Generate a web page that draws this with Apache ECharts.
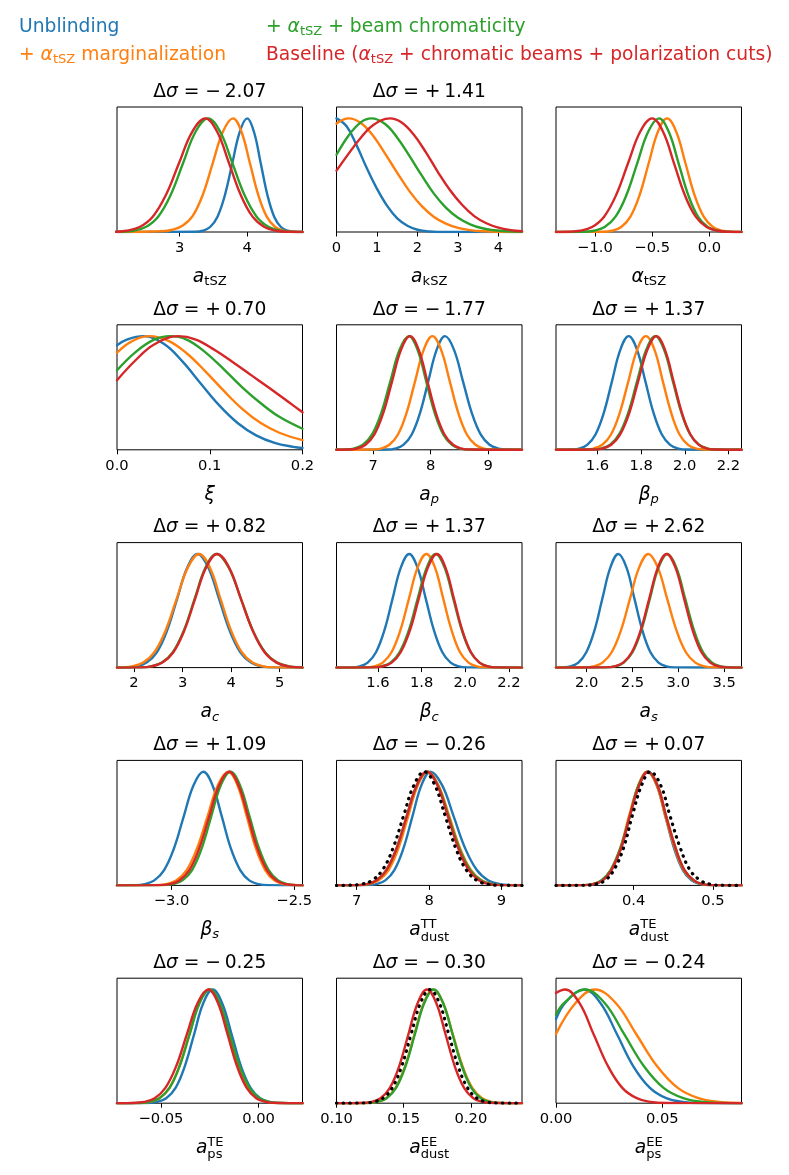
<!DOCTYPE html>
<html>
<head>
<meta charset="utf-8">
<script src="https://cdn.jsdelivr.net/npm/echarts@6/dist/echarts.min.js"></script>
<style>
  html, body { margin: 0; background: #fff; }
  #main { width: 789px; height: 1175px; }
</style>
</head>
<body>
<div id="main"></div>
<script>
// bell-shaped profile, normalised to the peak
const bell = [0.002, 0.011, 0.044, 0.135, 0.325, 0.607, 0.882, 1, 0.882, 0.607, 0.325, 0.135, 0.044, 0.011, 0.002]

// a_tSZ
const tszRange = [2.07, 4.82]
const tszTicks = [3, 4]
const tszLabels = ['3', '4']
const tszBlueX = [3.23, 3.34, 3.45, 3.56, 3.67, 3.78, 3.89, 4.00, 4.10, 4.20, 4.30, 4.40, 4.50, 4.60, 4.70]
const tszOrangeX = [2.74, 2.89, 3.04, 3.19, 3.34, 3.49, 3.64, 3.79, 3.915, 4.04, 4.165, 4.29, 4.415, 4.54, 4.665]
const tszOrangeY = [0.006, 0.02, 0.055, 0.14, 0.325, 0.607, 0.882, 1, 0.882, 0.607, 0.325, 0.135, 0.044, 0.011, 0.002]
const tszGreenX = [2.125, 2.31, 2.495, 2.68, 2.865, 3.05, 3.235, 3.42, 3.60, 3.78, 3.96, 4.14, 4.32, 4.50, 4.68]
const tszRedX = [2.015, 2.21, 2.405, 2.60, 2.795, 2.99, 3.185, 3.38, 3.555, 3.73, 3.905, 4.08, 4.255, 4.43, 4.605]

// a_kSZ
const kszRange = [0, 4.58]
const kszTicks = [0, 1, 2, 3, 4]
const kszLabels = ['0', '1', '2', '3', '4']
const kszBlueX = [0, 0.25, 0.5, 0.75, 1.0, 1.25, 1.5, 1.75, 2.0, 2.3, 2.7]
const kszBlueY = [1.0, 0.93, 0.76, 0.56, 0.38, 0.23, 0.12, 0.055, 0.02, 0.005, 0]
const kszOrangeX = [0, 0.3, 0.6, 0.9, 1.2, 1.5, 1.8, 2.1, 2.4, 2.7, 3.0, 3.3, 3.6, 4.0]
const kszOrangeY = [0.955, 1, 0.96, 0.85, 0.69, 0.52, 0.36, 0.23, 0.135, 0.073, 0.036, 0.017, 0.007, 0.002]
const kszGreenX = [0, 0.3, 0.6, 0.86, 1.2, 1.5, 1.8, 2.1, 2.4, 2.7, 3.0, 3.3, 3.6, 3.9, 4.2, 4.58]
const kszGreenY = [0.68, 0.85, 0.965, 1, 0.95, 0.83, 0.67, 0.50, 0.34, 0.215, 0.125, 0.068, 0.033, 0.015, 0.006, 0.002]
const kszRedX = [0, 0.3, 0.6, 0.9, 1.32, 1.6, 1.9, 2.2, 2.5, 2.8, 3.1, 3.4, 3.7, 4.0, 4.3, 4.58]
const kszRedY = [0.54, 0.69, 0.83, 0.94, 1, 0.965, 0.86, 0.705, 0.53, 0.37, 0.24, 0.14, 0.077, 0.038, 0.017, 0.007]

// alpha_tSZ
const alphaRange = [-1.34, 0.28]
const alphaTicks = [-1, -0.5, 0]
const alphaLabels = ['\u22121.0', '\u22120.5', '0.0']
const alphaOrangeX = [-0.93, -0.85, -0.77, -0.69, -0.61, -0.53, -0.45, -0.37, -0.29, -0.21, -0.13, -0.05, 0.03, 0.11, 0.19]
const alphaGreenX = [-1.105, -1.01, -0.915, -0.82, -0.725, -0.63, -0.535, -0.44, -0.355, -0.27, -0.185, -0.10, -0.015, 0.07, 0.155]
const alphaRedX = [-1.235, -1.13, -1.025, -0.92, -0.815, -0.71, -0.605, -0.50, -0.405, -0.31, -0.215, -0.12, -0.025, 0.07, 0.165]

// xi
const xiRange = [0, 0.2]
const xiTicks = [0, 0.1, 0.2]
const xiLabels = ['0.0', '0.1', '0.2']
const xiBlueX = [0, 0.01, 0.028, 0.05, 0.07, 0.09, 0.11, 0.13, 0.15, 0.17, 0.19, 0.2]
const xiBlueY = [0.92, 0.967, 1, 0.935, 0.783, 0.586, 0.393, 0.236, 0.127, 0.061, 0.026, 0.016]
const xiOrangeX = [0, 0.015, 0.035, 0.055, 0.075, 0.095, 0.115, 0.135, 0.155, 0.175, 0.2]
const xiOrangeY = [0.854, 0.95, 1, 0.96, 0.85, 0.693, 0.52, 0.36, 0.235, 0.15, 0.085]
const xiGreenX = [0, 0.02, 0.04, 0.057, 0.075, 0.095, 0.115, 0.135, 0.155, 0.175, 0.2]
const xiGreenY = [0.70, 0.86, 0.969, 1, 0.97, 0.86, 0.71, 0.55, 0.41, 0.29, 0.185]
const xiRedX = [0, 0.02, 0.04, 0.066, 0.085, 0.105, 0.125, 0.145, 0.165, 0.185, 0.2]
const xiRedY = [0.612, 0.788, 0.927, 1, 0.97, 0.88, 0.77, 0.655, 0.54, 0.42, 0.33]

// a_p
const apRange = [6.36, 9.59]
const apTicks = [7, 8, 9]
const apLabels = ['7', '8', '9']
const apBlueX = [7.235, 7.38, 7.525, 7.67, 7.815, 7.96, 8.105, 8.25, 8.405, 8.56, 8.715, 8.87, 9.025, 9.18, 9.335]
const apOrangeX = [6.98, 7.13, 7.28, 7.43, 7.58, 7.73, 7.88, 8.03, 8.18, 8.33, 8.48, 8.63, 8.78, 8.93, 9.08]
const apGreenX = [6.50, 6.66, 6.82, 6.98, 7.14, 7.30, 7.46, 7.62, 7.77, 7.92, 8.07, 8.22, 8.37, 8.52, 8.67]
const apRedX = [6.555, 6.71, 6.865, 7.02, 7.175, 7.33, 7.485, 7.64, 7.79, 7.94, 8.09, 8.24, 8.39, 8.54, 8.69]

// beta_p (beta_c looks the same)
const bpRange = [1.41, 2.26]
const bpTicks = [1.6, 1.8, 2.0, 2.2]
const bpLabels = ['1.6', '1.8', '2.0', '2.2']
const bpBlueX = [1.477, 1.515, 1.553, 1.591, 1.629, 1.667, 1.705, 1.743, 1.781, 1.819, 1.857, 1.895, 1.933, 1.971, 2.009]
const bpOrangeX = [1.542, 1.582, 1.622, 1.662, 1.702, 1.742, 1.782, 1.822, 1.861, 1.899, 1.938, 1.976, 2.015, 2.053, 2.092]
const bpGreenX = [1.575, 1.616, 1.658, 1.699, 1.741, 1.782, 1.824, 1.865, 1.905, 1.945, 1.985, 2.025, 2.065, 2.105, 2.145]
const bpRedX = [1.58, 1.621, 1.663, 1.704, 1.746, 1.787, 1.829, 1.87, 1.909, 1.948, 1.987, 2.026, 2.065, 2.104, 2.143]

// a_c
const acRange = [1.65, 5.47]
const acTicks = [2, 3, 4, 5]
const acLabels = ['2', '3', '4', '5']
const acBlueX = [1.84, 2.05, 2.26, 2.47, 2.68, 2.89, 3.10, 3.31, 3.53, 3.75, 3.97, 4.19, 4.41, 4.63, 4.85]
const acOrangeX = [1.73, 1.96, 2.19, 2.42, 2.65, 2.88, 3.11, 3.34, 3.56, 3.78, 4.00, 4.22, 4.44, 4.66, 4.88]
const acGreenX = [2.125, 2.35, 2.575, 2.80, 3.025, 3.25, 3.475, 3.70, 3.95, 4.20, 4.45, 4.70, 4.95, 5.20, 5.45]
const acRedX = [2.135, 2.36, 2.585, 2.81, 3.035, 3.26, 3.485, 3.71, 3.955, 4.20, 4.445, 4.69, 4.935, 5.18, 5.425]

// a_s
const asRange = [1.665, 3.69]
const asTicks = [2, 2.5, 3, 3.5]
const asLabels = ['2.0', '2.5', '3.0', '3.5']
const asBlueX = [1.734, 1.821, 1.909, 1.996, 2.084, 2.171, 2.259, 2.346, 2.434, 2.521, 2.609, 2.696, 2.784, 2.871, 2.959]
const asOrangeX = [1.973, 2.073, 2.173, 2.273, 2.373, 2.473, 2.573, 2.673, 2.776, 2.878, 2.981, 3.083, 3.186, 3.288, 3.391]
const asGreenX = [2.215, 2.31, 2.405, 2.50, 2.595, 2.69, 2.785, 2.88, 2.978, 3.075, 3.173, 3.27, 3.368, 3.465, 3.563]
const asRedX = [2.208, 2.303, 2.398, 2.493, 2.588, 2.683, 2.778, 2.873, 2.968, 3.063, 3.158, 3.253, 3.348, 3.443, 3.538]

// beta_s
const bsRange = [-3.222, -2.466]
const bsTicks = [-3, -2.5]
const bsLabels = ['\u22123.0', '\u22122.5']
const bsBlueX = [-3.15, -3.11, -3.07, -3.03, -2.99, -2.95, -2.91, -2.87, -2.833, -2.795, -2.758, -2.72, -2.683, -2.645, -2.608]
const bsOrangeX = [-3.066, -3.023, -2.981, -2.938, -2.896, -2.853, -2.811, -2.768, -2.731, -2.693, -2.656, -2.618, -2.581, -2.543, -2.506]
const bsGreenX = [-3.033, -2.994, -2.955, -2.916, -2.877, -2.838, -2.799, -2.76, -2.721, -2.682, -2.643, -2.604, -2.565, -2.526, -2.487]
const bsRedX = [-3.049, -3.008, -2.968, -2.927, -2.887, -2.846, -2.806, -2.765, -2.727, -2.688, -2.65, -2.611, -2.573, -2.534, -2.496]

// a_dust^TT
const dttRange = [6.72, 9.285]
const dttTicks = [7, 8, 9]
const dttLabels = ['7', '8', '9']
const dttBlueX = [7.145, 7.27, 7.395, 7.52, 7.645, 7.77, 7.895, 8.02, 8.18, 8.34, 8.50, 8.66, 8.82, 8.98, 9.14]
const dttOrangeX = [7.035, 7.17, 7.305, 7.44, 7.575, 7.71, 7.845, 7.98, 8.13, 8.28, 8.43, 8.58, 8.73, 8.88, 9.03]
const dttGreenX = [6.99, 7.13, 7.27, 7.41, 7.55, 7.69, 7.83, 7.97, 8.12, 8.27, 8.42, 8.57, 8.72, 8.87, 9.02]
const dttRedX = [6.99, 7.13, 7.27, 7.41, 7.55, 7.69, 7.83, 7.97, 8.115, 8.26, 8.405, 8.55, 8.695, 8.84, 8.985]
const dttPriorX = [6.92, 7.065, 7.21, 7.355, 7.50, 7.645, 7.79, 7.935, 8.08, 8.225, 8.37, 8.515, 8.66, 8.805, 8.95]

// a_dust^TE
const dteRange = [0.302, 0.536]
const dteTicks = [0.4, 0.5]
const dteLabels = ['0.4', '0.5']
const dteBlueX = [0.338, 0.349, 0.361, 0.372, 0.384, 0.395, 0.407, 0.418, 0.429, 0.44, 0.451, 0.462, 0.473, 0.484, 0.495]
const dteOrangeX = [0.337, 0.348, 0.36, 0.371, 0.383, 0.394, 0.406, 0.417, 0.429, 0.44, 0.452, 0.463, 0.475, 0.486, 0.498]
const dteGreenX = [0.336, 0.348, 0.359, 0.371, 0.383, 0.395, 0.406, 0.418, 0.43, 0.441, 0.453, 0.464, 0.476, 0.487, 0.499]
const dteRedX = [0.338, 0.349, 0.361, 0.372, 0.384, 0.395, 0.407, 0.418, 0.43, 0.441, 0.453, 0.464, 0.476, 0.487, 0.499]
const dtePriorX = [0.341, 0.352, 0.364, 0.375, 0.387, 0.398, 0.41, 0.421, 0.434, 0.446, 0.459, 0.471, 0.484, 0.496, 0.509]

// a_ps^TE
const pteRange = [-0.0725, 0.0225]
const pteTicks = [-0.05, 0]
const pteLabels = ['\u22120.05', '0.00']
const pteBlueX = [-0.0568, -0.052, -0.0473, -0.0425, -0.0378, -0.033, -0.0283, -0.0235, -0.0187, -0.0138, -0.009, -0.0041, 0.0008, 0.0056, 0.0105]
const pteOrangeX = [-0.0609, -0.0558, -0.0507, -0.0456, -0.0405, -0.0354, -0.0303, -0.0252, -0.0202, -0.0152, -0.0102, -0.0052, -0.0002, 0.0048, 0.0098]
const pteGreenX = [-0.0611, -0.0559, -0.0508, -0.0456, -0.0405, -0.0353, -0.0302, -0.025, -0.0199, -0.0148, -0.0097, -0.0046, 0.0005, 0.0056, 0.0107]
const pteRedX = [-0.0642, -0.0587, -0.0532, -0.0477, -0.0422, -0.0367, -0.0312, -0.0257, -0.0208, -0.0159, -0.011, -0.0061, -0.0012, 0.0037, 0.0086]

// a_dust^EE
const deeRange = [0.10, 0.238]
const deeTicks = [0.10, 0.15, 0.20]
const deeLabels = ['0.10', '0.15', '0.20']
const deeOrangeX = [0.123, 0.13, 0.137, 0.144, 0.151, 0.158, 0.165, 0.172, 0.1793, 0.1865, 0.1938, 0.201, 0.2083, 0.2155, 0.2228]
const deeGreenX = [0.1233, 0.1303, 0.1373, 0.1443, 0.1513, 0.1583, 0.1653, 0.1723, 0.1793, 0.1863, 0.1933, 0.2003, 0.2073, 0.2143, 0.2213]
const deeRedX = [0.119, 0.1259, 0.1328, 0.1397, 0.1466, 0.1535, 0.1604, 0.1673, 0.1742, 0.1811, 0.188, 0.1949, 0.2018, 0.2087, 0.2156]
const deePriorX = [0.1205, 0.1275, 0.1345, 0.1415, 0.1485, 0.1555, 0.1625, 0.1695, 0.1765, 0.1835, 0.1905, 0.1975, 0.2045, 0.2115, 0.2185]

// a_ps^EE
const peeRange = [0, 0.0873]
const peeTicks = [0, 0.05]
const peeLabels = ['0.00', '0.05']
const peeBlueX = [0, 0.0044, 0.0132, 0.0209, 0.0287, 0.0364, 0.0442, 0.0519, 0.0597, 0.0674]
const peeBlueY = [0.74, 0.885, 1, 0.882, 0.607, 0.325, 0.135, 0.044, 0.011, 0.002]
const peeOrangeX = [0, 0.0092, 0.0183, 0.0281, 0.0378, 0.0476, 0.0573, 0.0671, 0.0768, 0.0866]
const peeOrangeY = [0.61, 0.882, 1, 0.882, 0.607, 0.325, 0.135, 0.044, 0.011, 0.002]
const peeGreenX = [0, 0.004, 0.0136, 0.0229, 0.0321, 0.0414, 0.0506, 0.0599, 0.0691, 0.0784]
const peeGreenY = [0.78, 0.884, 1, 0.882, 0.607, 0.325, 0.135, 0.044, 0.011, 0.002]
const peeRedX = [0, 0.0042, 0.011, 0.0177, 0.0245, 0.0312, 0.038, 0.0447, 0.0515]
const peeRedY = [0.97, 1, 0.882, 0.607, 0.325, 0.135, 0.044, 0.011, 0.002]

// delta sigma shown above each panel
const shifts = ['\u2212\u20092.07', '+\u20091.41', null,
  '+\u20090.70', '\u2212\u20091.77', '+\u20091.37',
  '+\u20090.82', '+\u20091.37', '+\u20092.62',
  '+\u20091.09', '\u2212\u20090.26', '+\u20090.07',
  '\u2212\u20090.25', '\u2212\u20090.30', '\u2212\u20090.24']

const colors = {
  blue: '#1f77b4',
  orange: '#ff7f0e',
  green: '#2ca02c',
  red: '#d62728',
  prior: '#000000'
}

const FONT = '"DejaVu Sans"'
const ctx = document.createElement('canvas').getContext('2d')

function fontOf(kind, size) {
  const italic = kind === 'i' || kind === 'subi'
  const small = kind === 'sub' || kind === 'subi'
  const s = small ? size * 0.7 : size
  return (italic ? 'italic ' : '') + s.toFixed(2) + 'px ' + FONT
}

function textWidth(str, font) {
  ctx.font = font
  return ctx.measureText(str).width
}

/** lays out a run of text pieces (normal, italic, subscript, stacked sup/sub) */
function mathText(parts, x, y, size, color, align) {
  const items = []
  let w = 0
  parts.forEach(p => {
    if (p.sup !== undefined) {
      const f = fontOf('sub', size)
      items.push({ text: p.sup, font: f, dx: w, dy: -0.3 * size })
      items.push({ text: p.sub, font: f, dx: w, dy: 0.36 * size })
      w += Math.max(textWidth(p.sup, f), textWidth(p.sub, f))
    } else {
      const kind = p.f || 'n'
      const f = fontOf(kind, size)
      const dy = (kind === 'sub' || kind === 'subi') ? 0.25 * size : 0
      items.push({ text: p.t, font: f, dx: w, dy: dy })
      w += textWidth(p.t, f)
    }
  })
  const x0 = align === 'center' ? x - w / 2 : x
  return items.map(it => ({
    type: 'text',
    silent: true,
    style: {
      text: it.text,
      x: x0 + it.dx,
      y: y + it.dy,
      font: it.font,
      fill: color,
      textAlign: 'left',
      textVerticalAlign: 'middle'
    }
  }))
}

function zip(xs, ys, range) {
  const pts = xs.map((x, i) => [x, ys[i]])
  if (range[0] < xs[0] && ys[0] < 0.05) pts.unshift([range[0], 0])
  if (range[1] > xs[xs.length - 1] && ys[ys.length - 1] < 0.05) pts.push([range[1], 0])
  return pts
}

const panels = [
  { range: tszRange, ticks: tszTicks, labels: tszLabels,
    name: [{ t: 'a', f: 'i' }, { t: 'tSZ', f: 'sub' }],
    curves: [[tszBlueX, bell, 'blue'], [tszOrangeX, tszOrangeY, 'orange'], [tszGreenX, bell, 'green'], [tszRedX, bell, 'red']] },
  { range: kszRange, ticks: kszTicks, labels: kszLabels,
    name: [{ t: 'a', f: 'i' }, { t: 'kSZ', f: 'sub' }],
    curves: [[kszBlueX, kszBlueY, 'blue'], [kszOrangeX, kszOrangeY, 'orange'], [kszGreenX, kszGreenY, 'green'], [kszRedX, kszRedY, 'red']] },
  { range: alphaRange, ticks: alphaTicks, labels: alphaLabels,
    name: [{ t: '\u03b1', f: 'i' }, { t: 'tSZ', f: 'sub' }],
    curves: [[alphaOrangeX, bell, 'orange'], [alphaGreenX, bell, 'green'], [alphaRedX, bell, 'red']] },
  { range: xiRange, ticks: xiTicks, labels: xiLabels,
    name: [{ t: '\u03be', f: 'i' }],
    curves: [[xiBlueX, xiBlueY, 'blue'], [xiOrangeX, xiOrangeY, 'orange'], [xiGreenX, xiGreenY, 'green'], [xiRedX, xiRedY, 'red']] },
  { range: apRange, ticks: apTicks, labels: apLabels,
    name: [{ t: 'a', f: 'i' }, { t: 'p', f: 'subi' }],
    curves: [[apBlueX, bell, 'blue'], [apOrangeX, bell, 'orange'], [apGreenX, bell, 'green'], [apRedX, bell, 'red']] },
  { range: bpRange, ticks: bpTicks, labels: bpLabels,
    name: [{ t: '\u03b2', f: 'i' }, { t: 'p', f: 'subi' }],
    curves: [[bpBlueX, bell, 'blue'], [bpOrangeX, bell, 'orange'], [bpGreenX, bell, 'green'], [bpRedX, bell, 'red']] },
  { range: acRange, ticks: acTicks, labels: acLabels,
    name: [{ t: 'a', f: 'i' }, { t: 'c', f: 'subi' }],
    curves: [[acBlueX, bell, 'blue'], [acOrangeX, bell, 'orange'], [acGreenX, bell, 'green'], [acRedX, bell, 'red']] },
  { range: bpRange, ticks: bpTicks, labels: bpLabels,
    name: [{ t: '\u03b2', f: 'i' }, { t: 'c', f: 'subi' }],
    curves: [[bpBlueX, bell, 'blue'], [bpOrangeX, bell, 'orange'], [bpGreenX, bell, 'green'], [bpRedX, bell, 'red']] },
  { range: asRange, ticks: asTicks, labels: asLabels,
    name: [{ t: 'a', f: 'i' }, { t: 's', f: 'subi' }],
    curves: [[asBlueX, bell, 'blue'], [asOrangeX, bell, 'orange'], [asGreenX, bell, 'green'], [asRedX, bell, 'red']] },
  { range: bsRange, ticks: bsTicks, labels: bsLabels,
    name: [{ t: '\u03b2', f: 'i' }, { t: 's', f: 'subi' }],
    curves: [[bsBlueX, bell, 'blue'], [bsOrangeX, bell, 'orange'], [bsGreenX, bell, 'green'], [bsRedX, bell, 'red']] },
  { range: dttRange, ticks: dttTicks, labels: dttLabels,
    name: [{ t: 'a', f: 'i' }, { sup: 'TT', sub: 'dust' }],
    curves: [[dttBlueX, bell, 'blue'], [dttOrangeX, bell, 'orange'], [dttGreenX, bell, 'green'], [dttRedX, bell, 'red'], [dttPriorX, bell, 'prior']] },
  { range: dteRange, ticks: dteTicks, labels: dteLabels,
    name: [{ t: 'a', f: 'i' }, { sup: 'TE', sub: 'dust' }],
    curves: [[dteBlueX, bell, 'blue'], [dteOrangeX, bell, 'orange'], [dteGreenX, bell, 'green'], [dteRedX, bell, 'red'], [dtePriorX, bell, 'prior']] },
  { range: pteRange, ticks: pteTicks, labels: pteLabels,
    name: [{ t: 'a', f: 'i' }, { sup: 'TE', sub: 'ps' }],
    curves: [[pteBlueX, bell, 'blue'], [pteOrangeX, bell, 'orange'], [pteGreenX, bell, 'green'], [pteRedX, bell, 'red']] },
  { range: deeRange, ticks: deeTicks, labels: deeLabels,
    name: [{ t: 'a', f: 'i' }, { sup: 'EE', sub: 'dust' }],
    curves: [[deeOrangeX, bell, 'orange'], [deeGreenX, bell, 'green'], [deeRedX, bell, 'red'], [deePriorX, bell, 'prior']] },
  { range: peeRange, ticks: peeTicks, labels: peeLabels,
    name: [{ t: 'a', f: 'i' }, { sup: 'EE', sub: 'ps' }],
    curves: [[peeBlueX, peeBlueY, 'blue'], [peeOrangeX, peeOrangeY, 'orange'], [peeGreenX, peeGreenY, 'green'], [peeRedX, peeRedY, 'red']] }
]

const colLeft = [117, 336.5, 556]
const rowTop = [107, 324.8, 542.6, 760.4, 978.2]
const boxW = 185.5
const boxH = 125
const bigFont = 18.7

const chart = echarts.init(document.getElementById('main'))

const grid = []
const xAxis = []
const yAxis = []
const series = []
const graphic = []

panels.forEach((p, i) => {
  const row = Math.floor(i / 3)
  const col = i % 3
  const left = colLeft[col]
  const top = rowTop[row]

  grid.push({
    left: left,
    top: top,
    width: boxW,
    height: boxH,
    show: true,
    borderColor: '#000',
    borderWidth: 1,
    backgroundColor: 'rgba(0,0,0,0)',
    containLabel: false,
    outerBoundsMode: 'none'
  })

  xAxis.push({
    gridIndex: i,
    type: 'value',
    min: p.range[0],
    max: p.range[1],
    axisLine: { show: false, onZero: false },
    splitLine: { show: false },
    axisTick: {
      show: true,
      customValues: p.ticks,
      length: 4.5,
      lineStyle: { color: '#000', width: 1 }
    },
    axisLabel: {
      show: true,
      customValues: p.ticks,
      margin: 8.5,
      color: '#000',
      fontSize: 14.7,
      fontFamily: 'DejaVu Sans',
      formatter: v => {
        let k = 0
        p.ticks.forEach((t, j) => { if (Math.abs(t - v) < Math.abs(p.ticks[k] - v)) k = j })
        return p.labels[k]
      }
    }
  })

  yAxis.push({ gridIndex: i, type: 'value', min: 0, max: 1.1, show: false })

  p.curves.forEach(c => {
    const isPrior = c[2] === 'prior'
    series.push({
      type: 'line',
      xAxisIndex: i,
      yAxisIndex: i,
      data: zip(c[0], c[1], p.range),
      symbol: 'none',
      showSymbol: false,
      smooth: 0.4,
      clip: true,
      silent: true,
      emphasis: { disabled: true },
      lineStyle: isPrior
        ? { color: colors.prior, width: 3.2, type: [0.5, 6.2], cap: 'round' }
        : { color: colors[c[2]], width: 2.4, cap: 'round', join: 'round' }
    })
  })

  if (shifts[i]) {
    graphic.push(...mathText(
      [{ t: '\u0394' }, { t: '\u03c3', f: 'i' }, { t: ' = ' + shifts[i] }],
      left + boxW / 2, top - 15, bigFont, '#000', 'center'))
  }
  graphic.push(...mathText(p.name, left + boxW / 2, top + 170, bigFont, '#000', 'center'))
})

// legend lines at the top
graphic.push(...mathText([{ t: 'Unblinding' }], 19, 27, bigFont, colors.blue, 'left'))
graphic.push(...mathText([{ t: '+ ' }, { t: '\u03b1', f: 'i' }, { t: 'tSZ', f: 'sub' }, { t: ' marginalization' }],
  19, 55, bigFont, colors.orange, 'left'))
graphic.push(...mathText([{ t: '+ ' }, { t: '\u03b1', f: 'i' }, { t: 'tSZ', f: 'sub' }, { t: ' + beam chromaticity' }],
  266, 27, bigFont, colors.green, 'left'))
graphic.push(...mathText([{ t: 'Baseline (' }, { t: '\u03b1', f: 'i' }, { t: 'tSZ', f: 'sub' }, { t: ' + chromatic beams + polarization cuts)' }],
  266, 55, bigFont, colors.red, 'left'))

chart.setOption({
  animation: false,
  backgroundColor: '#fff',
  grid: grid,
  xAxis: xAxis,
  yAxis: yAxis,
  series: series,
  graphic: { elements: graphic }
})
</script>
</body>
</html>
